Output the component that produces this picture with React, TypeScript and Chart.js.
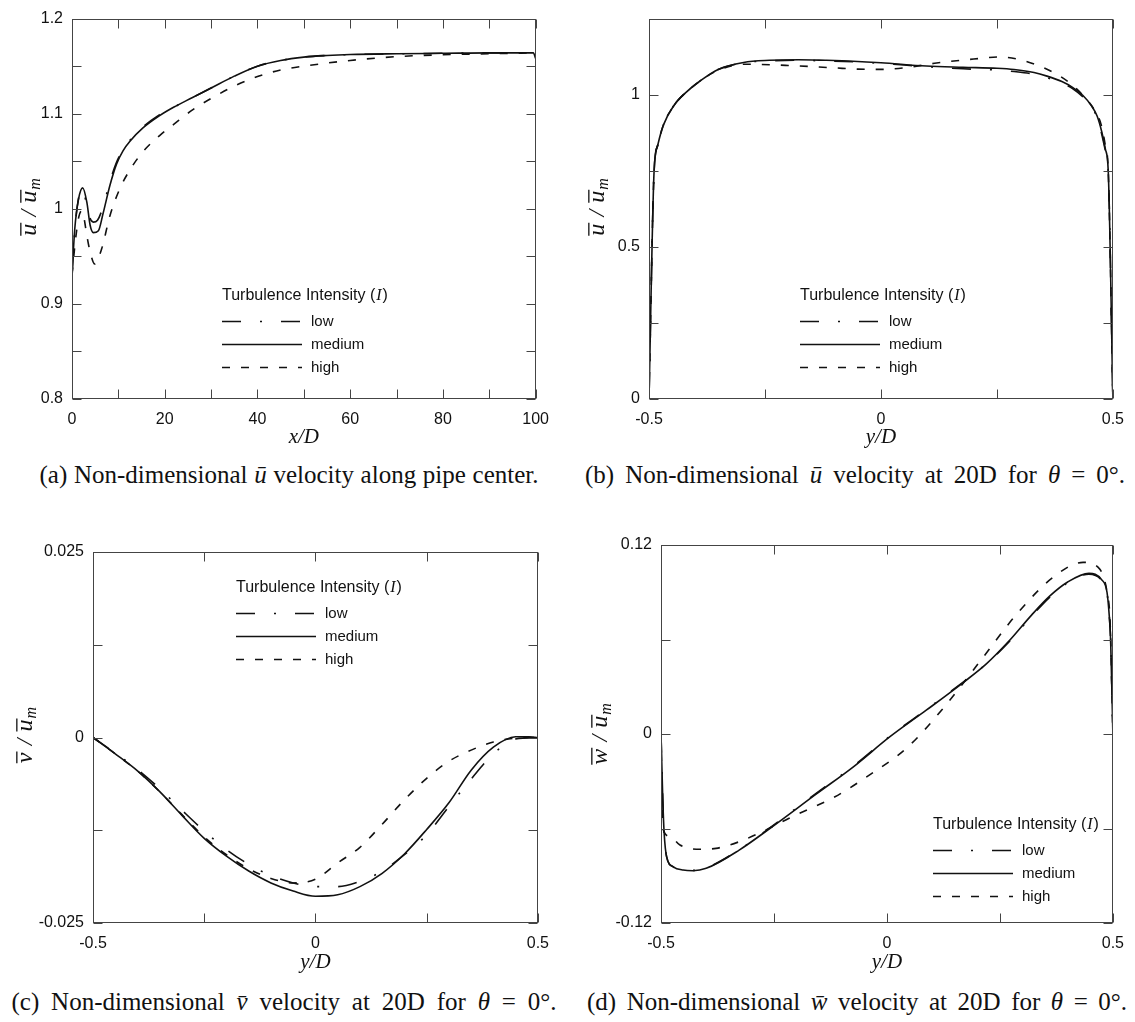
import React, { useEffect, useLayoutEffect, useRef } from 'react';
import Chart from 'chart.js/auto';

const SANS = "'Liberation Sans', Arial, Helvetica, sans-serif";
const SERIF = "'Liberation Serif', 'Times New Roman', serif";

// ---------- Panel (a): u/um along pipe center vs x/D ----------
const aXLow = [0, 0.6, 1.3, 2.2, 3.1, 3.9, 4.6, 5.5, 6.7, 8.2, 9.6, 11, 12.5, 15.3, 18.9, 22, 26, 30, 35, 40, 45, 50, 55, 60, 70, 80, 90, 99.5, 100];
const aYLow = [0.93, 0.977, 1.008, 1.021, 1.006, 0.99, 0.986, 0.988, 1.002, 1.029, 1.049, 1.062, 1.072, 1.086, 1.099, 1.107, 1.117, 1.127, 1.1395, 1.15, 1.156, 1.1595, 1.1612, 1.1622, 1.163, 1.1635, 1.164, 1.164, 1.158];
const aXMed = [0, 0.6, 1.4, 2.3, 3.2, 3.9, 4.6, 5.7, 6.7, 8.2, 9.6, 11, 12.5, 15.3, 18.9, 22, 26, 30, 35, 40, 45, 50, 55, 60, 70, 80, 90, 99.5, 100];
const aYMed = [0.93, 0.979, 1.01, 1.022, 1.007, 0.983, 0.975, 0.977, 0.995, 1.025, 1.047, 1.061, 1.071, 1.085, 1.098, 1.107, 1.117, 1.127, 1.1395, 1.15, 1.156, 1.1595, 1.1612, 1.1622, 1.163, 1.1635, 1.164, 1.164, 1.158];
const aXHigh = [0, 0.7, 1.4, 2.1, 2.6, 3.2, 3.9, 4.9, 6.4, 8.2, 10.3, 12.5, 15.3, 18.9, 22, 26, 30, 35, 40, 45, 50, 60, 70, 80, 90, 100];
const aYHigh = [0.93, 0.965, 0.99, 0.998, 0.99, 0.972, 0.955, 0.942, 0.958, 0.993, 1.021, 1.041, 1.06, 1.077, 1.089, 1.104, 1.116, 1.129, 1.139, 1.146, 1.15, 1.156, 1.16, 1.162, 1.163, 1.164];
const aXTicks = [0, 10, 20, 30, 40, 50, 60, 70, 80, 90, 100];
const aXTickLabels = [0, 20, 40, 60, 80, 100];
const aYTicks = [0.8, 0.85, 0.9, 0.95, 1, 1.05, 1.1, 1.15, 1.2];
const aYTickLabels = [0.8, 0.9, 1, 1.1, 1.2];

// ---------- Panel (b): u/um at 20D vs y/D ----------
const bXLow = [-0.5, -0.489, -0.481, -0.469, -0.446, -0.422, -0.39, -0.351, -0.296, -0.24, -0.178, -0.12, -0.06, 0, 0.098, 0.177, 0.25, 0.287, 0.33, 0.358, 0.39, 0.413, 0.435, 0.453, 0.466, 0.476, 0.484, 0.49, 0.5];
const bYLow = [0, 0.749, 0.835, 0.9, 0.965, 1.005, 1.045, 1.083, 1.105, 1.111, 1.113, 1.111, 1.108, 1.103, 1.092, 1.085, 1.081, 1.076, 1.067, 1.056, 1.038, 1.02, 0.993, 0.96, 0.925, 0.87, 0.815, 0.749, 0];
const bXMed = [-0.5, -0.489, -0.481, -0.469, -0.446, -0.422, -0.39, -0.351, -0.296, -0.24, -0.178, -0.12, -0.06, 0, 0.098, 0.177, 0.25, 0.287, 0.33, 0.358, 0.39, 0.413, 0.435, 0.453, 0.466, 0.476, 0.484, 0.49, 0.5];
const bYMed = [0, 0.749, 0.835, 0.9, 0.965, 1.005, 1.045, 1.083, 1.106, 1.113, 1.115, 1.113, 1.11, 1.105, 1.094, 1.09, 1.087, 1.083, 1.073, 1.061, 1.043, 1.024, 0.998, 0.965, 0.93, 0.878, 0.82, 0.749, 0];
const bXHigh = [-0.5, -0.489, -0.481, -0.469, -0.446, -0.422, -0.39, -0.351, -0.296, -0.2, -0.1, -0.05, 0, 0.05, 0.12, 0.2, 0.256, 0.3, 0.342, 0.378, 0.41, 0.44, 0.46, 0.475, 0.484, 0.49, 0.5];
const bYHigh = [0, 0.749, 0.835, 0.9, 0.965, 1.005, 1.045, 1.08, 1.1, 1.096, 1.088, 1.084, 1.083, 1.088, 1.104, 1.117, 1.124, 1.115, 1.094, 1.068, 1.035, 0.99, 0.95, 0.9, 0.83, 0.749, 0];
const bXTicks = [-0.5, -0.25, 0, 0.25, 0.5];
const bXTickLabels = [-0.5, 0, 0.5];
const bYTicks = [0, 0.25, 0.5, 0.75, 1, 1.25];
const bYTickLabels = [0, 0.5, 1];

// ---------- Panel (c): v/um at 20D vs y/D ----------
const cXLow = [-0.5, -0.45, -0.4, -0.35, -0.3, -0.25, -0.2, -0.15, -0.1, -0.05, 0, 0.05, 0.1, 0.15, 0.2, 0.25, 0.3, 0.35, 0.4, 0.45, 0.5];
const cYLow = [0, -0.0021, -0.0043, -0.0069, -0.0098, -0.0126, -0.0151, -0.0171, -0.0186, -0.0196, -0.0201, -0.0201, -0.0194, -0.018, -0.0158, -0.0131, -0.0093, -0.0056, -0.0022, -0.0002, 0];
const cXMed = [-0.5, -0.45, -0.4, -0.35, -0.3, -0.25, -0.2, -0.15, -0.1, -0.05, 0, 0.05, 0.1, 0.15, 0.2, 0.25, 0.3, 0.35, 0.4, 0.45, 0.48, 0.5];
const cYMed = [0, -0.0022, -0.0045, -0.0073, -0.0105, -0.0136, -0.016, -0.018, -0.0196, -0.0207, -0.0214, -0.0212, -0.0201, -0.0183, -0.0157, -0.0124, -0.0088, -0.0044, -0.0013, 0.0001, 0.0001, 0];
const cXHigh = [-0.5, -0.45, -0.4, -0.35, -0.3, -0.25, -0.2, -0.15, -0.1, -0.05, 0, 0.05, 0.1, 0.15, 0.2, 0.25, 0.3, 0.35, 0.4, 0.45, 0.5];
const cYHigh = [0, -0.0022, -0.0045, -0.0073, -0.0104, -0.0134, -0.0158, -0.0177, -0.019, -0.0196, -0.0191, -0.0169, -0.0148, -0.0117, -0.0084, -0.0055, -0.0032, -0.0017, -0.0006, -0.0001, 0];
const cXTicks = [-0.5, -0.25, 0, 0.25, 0.5];
const cXTickLabels = [-0.5, 0, 0.5];
const cYTicks = [-0.025, -0.0125, 0, 0.0125, 0.025];
const cYTickLabels = [-0.025, 0, 0.025];

// ---------- Panel (d): w/um at 20D vs y/D ----------
const dXLow = [-0.5, -0.496, -0.493, -0.4875, -0.473, -0.451, -0.429, -0.4, -0.327, -0.254, -0.156, -0.075, 0.006, 0.087, 0.168, 0.22, 0.27, 0.32, 0.36, 0.4, 0.447, 0.475, 0.487, 0.492, 0.495, 0.5];
const dYLow = [0, -0.042, -0.063, -0.078, -0.0843, -0.0864, -0.0866, -0.085, -0.0735, -0.0585, -0.0375, -0.0205, -0.0015, 0.0155, 0.0328, 0.0445, 0.0585, 0.0748, 0.0868, 0.096, 0.1015, 0.0975, 0.0895, 0.075, 0.06, 0];
const dXMed = [-0.5, -0.496, -0.493, -0.4875, -0.473, -0.451, -0.429, -0.4, -0.327, -0.254, -0.156, -0.075, 0.006, 0.087, 0.168, 0.22, 0.27, 0.32, 0.36, 0.4, 0.447, 0.475, 0.487, 0.492, 0.495, 0.5];
const dYMed = [0, -0.042, -0.063, -0.078, -0.0843, -0.0864, -0.0868, -0.0853, -0.0737, -0.0589, -0.038, -0.021, -0.0019, 0.0151, 0.0325, 0.0445, 0.059, 0.0755, 0.0875, 0.0965, 0.102, 0.098, 0.09, 0.075, 0.06, 0];
const dXHigh = [-0.5, -0.496, -0.48, -0.458, -0.414, -0.378, -0.327, -0.283, -0.224, -0.197, -0.116, -0.035, 0.046, 0.127, 0.208, 0.289, 0.37, 0.434, 0.467, 0.479, 0.487, 0.494, 0.5];
const dYHigh = [0, -0.0597, -0.065, -0.0705, -0.0732, -0.0726, -0.0684, -0.063, -0.0546, -0.0508, -0.04, -0.0253, -0.0083, 0.0172, 0.0469, 0.0767, 0.1, 0.109, 0.106, 0.1, 0.09, 0.07, 0];
const dXTicks = [-0.5, -0.25, 0, 0.25, 0.5];
const dXTickLabels = [-0.5, 0, 0.5];
const dYTicks = [-0.12, -0.06, 0, 0.06, 0.12];
const dYTickLabels = [-0.12, 0, 0.12];

const seriesLabels = ['low', 'medium', 'high'];
const LOW_DASH = [19, 19, 2, 19];
const MED_DASH: number[] = [];
const HIGH_DASH = [8, 11];

type Series = { label: string; x: number[]; y: number[]; dash: number[] };
type Panel = {
  canvas: { left: number; top: number; width: number; height: number };
  plot: { left: number; right: number; top: number; bottom: number };
  xMin: number; xMax: number; yMin: number; yMax: number;
  xTicks: number[]; xLabels: number[]; yTicks: number[]; yLabels: number[];
  xTitle: string; xTitleY: number;
  yLetter: string; yTitle: { x: number; y: number };
  legend: { x: number; y: number };
  series: Series[];
};

const mkSeries = (xs: number[][], ys: number[][]): Series[] =>
  [LOW_DASH, MED_DASH, HIGH_DASH].map((dash, i) => ({ label: seriesLabels[i], x: xs[i], y: ys[i], dash }));

const panels: Panel[] = [
  {
    canvas: { left: 0, top: 0, width: 560, height: 452 },
    plot: { left: 72, right: 537, top: 14, bottom: 399 },
    xMin: 0, xMax: 100, yMin: 0.8, yMax: 1.2,
    xTicks: aXTicks, xLabels: aXTickLabels, yTicks: aYTicks, yLabels: aYTickLabels,
    xTitle: 'x/D', xTitleY: 437, yLetter: 'u', yTitle: { x: 29, y: 207 },
    legend: { x: 222, y: 296 },
    series: mkSeries([aXLow, aXMed, aXHigh], [aYLow, aYMed, aYHigh]),
  },
  {
    canvas: { left: 560, top: 0, width: 575, height: 452 },
    plot: { left: 649, right: 1117, top: 12, bottom: 399 },
    xMin: -0.5, xMax: 0.5, yMin: 0, yMax: 1.25,
    xTicks: bXTicks, xLabels: bXTickLabels, yTicks: bYTicks, yLabels: bYTickLabels,
    xTitle: 'y/D', xTitleY: 437, yLetter: 'u', yTitle: { x: 597, y: 207 },
    legend: { x: 800, y: 296 },
    series: mkSeries([bXLow, bXMed, bXHigh], [bYLow, bYMed, bYHigh]),
  },
  {
    canvas: { left: 0, top: 520, width: 560, height: 458 },
    plot: { left: 93, right: 540, top: 552, bottom: 923 },
    xMin: -0.5, xMax: 0.5, yMin: -0.025, yMax: 0.025,
    xTicks: cXTicks, xLabels: cXTickLabels, yTicks: cYTicks, yLabels: cYTickLabels,
    xTitle: 'y/D', xTitleY: 962, yLetter: 'v', yTitle: { x: 25, y: 735 },
    legend: { x: 236, y: 588 },
    series: mkSeries([cXLow, cXMed, cXHigh], [cYLow, cYMed, cYHigh]),
  },
  {
    canvas: { left: 560, top: 520, width: 575, height: 458 },
    plot: { left: 661, right: 1117, top: 545, bottom: 923 },
    xMin: -0.5, xMax: 0.5, yMin: -0.12, yMax: 0.12,
    xTicks: dXTicks, xLabels: dXTickLabels, yTicks: dYTicks, yLabels: dYTickLabels,
    xTitle: 'y/D', xTitleY: 962, yLetter: 'w', yTitle: { x: 600, y: 734 },
    legend: { x: 933, y: 825 },
    series: mkSeries([dXLow, dXMed, dXHigh], [dYLow, dYMed, dYHigh]),
  },
];

const LEGEND_ROWS = [25, 48, 71];

function labelFormatter(labels: number[]) {
  return (v: number) => {
    const m = labels.find((l) => Math.abs(l - v) < 1e-9);
    return m === undefined ? '' : String(m);
  };
}

function buildConfig(p: Panel): any {
  const c = p.canvas;
  const pl = p.plot;
  const xTitleSize = 21;
  const titlePadBottom = c.top + c.height - p.xTitleY - (xTitleSize * 1.2) / 2;
  const overlay = {
    id: 'overlay_' + p.xTitle,
    afterDatasetsDraw(chart: any) {
      const { ctx, chartArea } = chart;
      const xs = chart.scales.x;
      const ys = chart.scales.y;
      const L = Math.round(chartArea.left) + 0.5;
      const R = Math.round(chartArea.right) - 0.5;
      const T = Math.round(chartArea.top) + 0.5;
      const B = Math.round(chartArea.bottom) - 0.5;
      ctx.save();
      ctx.setLineDash([]);
      ctx.strokeStyle = '#444';
      ctx.lineWidth = 1;
      ctx.strokeRect(L, T, R - L, B - T);
      const tl = 9;
      ctx.beginPath();
      p.xTicks.forEach((v) => {
        const px = Math.round(xs.getPixelForValue(v)) + 0.5;
        ctx.moveTo(px, B); ctx.lineTo(px, B - tl);
        ctx.moveTo(px, T); ctx.lineTo(px, T + tl);
      });
      p.yTicks.forEach((v) => {
        const py = Math.round(ys.getPixelForValue(v)) + 0.5;
        ctx.moveTo(L, py); ctx.lineTo(L + tl, py);
        ctx.moveTo(R, py); ctx.lineTo(R - tl, py);
      });
      ctx.stroke();
      ctx.restore();
    },
    afterDraw(chart: any) {
      const ctx = chart.ctx;
      ctx.save();
      // legend
      const lx = p.legend.x - c.left;
      const ty = p.legend.y - c.top;
      ctx.fillStyle = '#111';
      ctx.textBaseline = 'middle';
      ctx.textAlign = 'left';
      ctx.font = `16px ${SANS}`;
      let tx = lx;
      const t1 = 'Turbulence Intensity (';
      ctx.fillText(t1, tx, ty);
      tx += ctx.measureText(t1).width;
      ctx.font = `italic 16px ${SERIF}`;
      ctx.fillText('I', tx + 1, ty);
      tx += ctx.measureText('I').width + 2;
      ctx.font = `16px ${SANS}`;
      ctx.fillText(')', tx, ty);
      p.series.forEach((s, i) => {
        const ry = Math.round(ty + LEGEND_ROWS[i]) + 0.5;
        ctx.strokeStyle = '#111';
        ctx.lineWidth = 1.5;
        ctx.setLineDash(s.dash);
        ctx.beginPath();
        ctx.moveTo(lx, ry);
        ctx.lineTo(lx + 80, ry);
        ctx.stroke();
        ctx.setLineDash([]);
        ctx.font = `15px ${SANS}`;
        ctx.fillText(s.label, lx + 89, ry);
      });
      // y-axis title (rotated): letter-bar / u-bar subscript m
      const fs = 24;
      const big = `italic ${fs}px ${SERIF}`;
      const sub = `italic 16px ${SERIF}`;
      ctx.translate(p.yTitle.x - c.left, p.yTitle.y - c.top);
      ctx.rotate(-Math.PI / 2);
      ctx.textBaseline = 'alphabetic';
      ctx.font = big;
      const gap = fs * 0.3;
      const w1 = ctx.measureText(p.yLetter).width;
      const ws = ctx.measureText('/').width;
      const w2 = ctx.measureText('u').width;
      ctx.font = sub;
      const w3 = ctx.measureText('m').width;
      const total = w1 + gap + ws + gap + w2 + w3 + 1;
      let x0 = -total / 2;
      const base = fs * 0.3;
      const barY = base - fs * 0.64;
      ctx.font = big;
      ctx.fillText(p.yLetter, x0, base);
      ctx.strokeStyle = '#111';
      ctx.lineWidth = 1.3;
      ctx.beginPath();
      ctx.moveTo(x0, barY); ctx.lineTo(x0 + w1 + 1, barY);
      x0 += w1 + gap;
      ctx.fillText('/', x0, base);
      x0 += ws + gap;
      ctx.fillText('u', x0, base);
      ctx.moveTo(x0, barY); ctx.lineTo(x0 + w2 + 1, barY);
      ctx.stroke();
      x0 += w2 + 1;
      ctx.font = sub;
      ctx.fillText('m', x0, base + 4);
      ctx.restore();
    },
  };
  return {
    type: 'line',
    data: {
      datasets: p.series.map((s) => ({
        label: s.label,
        data: s.x.map((x, i) => ({ x, y: s.y[i] })),
        borderColor: '#111',
        borderWidth: 1.6,
        borderDash: s.dash,
        pointRadius: 0,
        fill: false,
        cubicInterpolationMode: 'monotone',
      })),
    },
    options: {
      animation: false,
      responsive: false,
      maintainAspectRatio: false,
      events: [],
      layout: { padding: { left: 0, top: pl.top - c.top, right: c.left + c.width - pl.right, bottom: 0 } },
      plugins: { legend: { display: false }, tooltip: { enabled: false }, title: { display: false } },
      scales: {
        x: {
          type: 'linear',
          min: p.xMin,
          max: p.xMax,
          afterBuildTicks: (scale: any) => { scale.ticks = p.xTicks.map((v) => ({ value: v })); },
          afterFit: (scale: any) => { scale.height = c.top + c.height - pl.bottom; },
          ticks: { callback: labelFormatter(p.xLabels), autoSkip: false, maxRotation: 0, padding: 11, color: '#111', font: { family: SANS, size: 16 } },
          grid: { display: false, drawTicks: false, tickLength: 0 },
          border: { display: false },
          title: { display: true, text: p.xTitle, color: '#111', padding: { top: 0, bottom: titlePadBottom }, font: { family: SERIF, size: xTitleSize, style: 'italic', lineHeight: 1.2 } },
        },
        y: {
          type: 'linear',
          min: p.yMin,
          max: p.yMax,
          afterBuildTicks: (scale: any) => { scale.ticks = p.yTicks.map((v) => ({ value: v })); },
          afterFit: (scale: any) => { scale.width = pl.left - c.left; },
          ticks: { callback: labelFormatter(p.yLabels), autoSkip: false, padding: 9, color: '#111', font: { family: SANS, size: 16 } },
          grid: { display: false, drawTicks: false, tickLength: 0 },
          border: { display: false },
        },
      },
    },
    plugins: [overlay],
  };
}

function PanelChart({ panel }: { panel: Panel }) {
  const ref = useRef<HTMLCanvasElement>(null);
  useEffect(() => {
    const chart = new Chart(ref.current as HTMLCanvasElement, buildConfig(panel));
    return () => chart.destroy();
  }, [panel]);
  const c = panel.canvas;
  return (
    <canvas
      ref={ref}
      width={c.width}
      height={c.height}
      style={{ position: 'absolute', left: c.left, top: c.top, width: c.width, height: c.height }}
    />
  );
}

// caption: centre x, centre y, target width of the text line
function Caption({ cx, cy, target, children }: { cx: number; cy: number; target: number; children: React.ReactNode }) {
  const ref = useRef<HTMLSpanElement>(null);
  useLayoutEffect(() => {
    const el = ref.current;
    if (!el) return;
    el.style.wordSpacing = '0px';
    const w = el.getBoundingClientRect().width;
    const spaces = (el.textContent || '').split(' ').length - 1;
    if (spaces > 0) el.style.wordSpacing = `${Math.max(-3, (target - w) / spaces)}px`;
  }, [target]);
  return (
    <div
      style={{
        position: 'absolute',
        left: cx - 400,
        width: 800,
        top: cy - 16,
        height: 32,
        lineHeight: '32px',
        textAlign: 'center',
        fontFamily: SERIF,
        fontSize: 25,
        color: '#111',
        whiteSpace: 'nowrap',
      }}
    >
      <span ref={ref}>{children}</span>
    </div>
  );
}

export default function App() {
  return (
    <div style={{ position: 'absolute', left: 0, top: 0, width: 1135, height: 1022, background: '#fff', overflow: 'hidden' }}>
      {panels.map((p, i) => (
        <PanelChart key={i} panel={p} />
      ))}
      <Caption cx={289} cy={475} target={499}>
        (a) Non-dimensional <i>ū</i> velocity along pipe center.
      </Caption>
      <Caption cx={855} cy={475} target={540}>
        (b) Non-dimensional <i>ū</i> velocity at 20D for <i>θ</i> = 0°.
      </Caption>
      <Caption cx={284} cy={1002} target={545}>
        (c) Non-dimensional <i>v&#772;</i> velocity at 20D for <i>θ</i> = 0°.
      </Caption>
      <Caption cx={857} cy={1002} target={540}>
        (d) Non-dimensional <i>w&#772;</i> velocity at 20D for <i>θ</i> = 0°.
      </Caption>
    </div>
  );
}
